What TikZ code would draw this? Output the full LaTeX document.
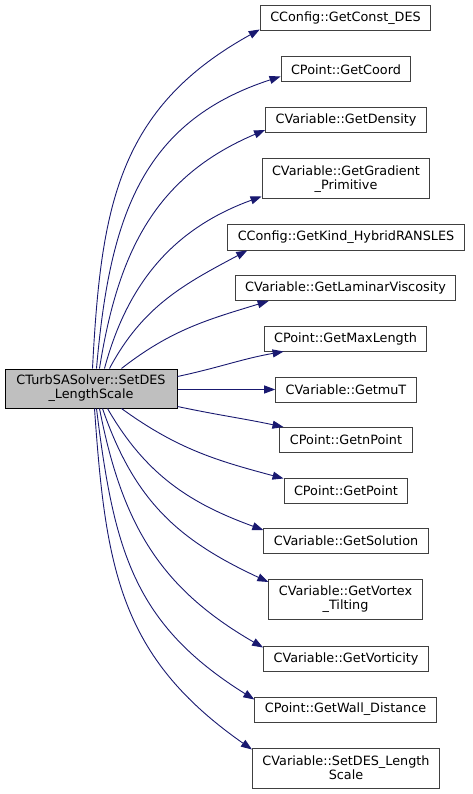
\documentclass[tikz,border=0pt]{standalone}
\usepackage{fontspec}
\setmainfont{DejaVu Sans}
\usetikzlibrary{arrows.meta}
\definecolor{edgeblue}{HTML}{191970}
\definecolor{boxborder}{HTML}{404040}
\definecolor{mainfill}{HTML}{BFBFBF}

\begin{document}
\begin{tikzpicture}[x=1pt,y=1pt,
  box/.style={draw=boxborder,line width=1pt,fill=white,align=center,inner xsep=10pt,inner ysep=0pt,minimum height=25pt,font=\fontsize{12.8}{14}\selectfont},
  mainbox/.style={box,draw=black,fill=mainfill,minimum width=172pt,minimum height=39pt},
  arrow/.style={-{Triangle[length=11pt,width=8pt]},edgeblue,line width=0.9pt}
]
\useasboundingbox (0,0) rectangle (472,-794);
\node[mainbox] (main) at (91,-388.5) {CTurbSASolver::SetDES\\\_LengthScale};
\node[box] (const) at (345.5,-18.5) {CConfig::GetConst\_DES};
\node[box] (coord) at (346,-69.5) {CPoint::GetCoord};
\node[box] (density) at (346,-120) {CVariable::GetDensity};
\node[box,minimum height=40pt] (gradient) at (346,-179) {CVariable::GetGradient\\\_Primitive};
\node[box] (kind) at (346,-237.5) {CConfig::GetKind\_HybridRANSLES};
\node[box] (laminar) at (345.5,-288) {CVariable::GetLaminarViscosity};
\node[box] (maxlen) at (345.5,-338.5) {CPoint::GetMaxLength};
\node[box] (mut) at (346,-389.5) {CVariable::GetmuT};
\node[box] (npoint) at (346,-440) {CPoint::GetnPoint};
\node[box] (point) at (346,-490.5) {CPoint::GetPoint};
\node[box] (solution) at (346,-541) {CVariable::GetSolution};
\node[box,minimum height=40pt] (vortex) at (345.5,-599.5) {CVariable::GetVortex\\\_Tilting};
\node[box] (vorticity) at (346,-658.5) {CVariable::GetVorticity};
\node[box] (wall) at (345.5,-709.5) {CPoint::GetWall\_Distance};
\node[box,minimum height=40pt] (setdes) at (346,-768) {CVariable::SetDES\_Length\\Scale};
% calls leaving the top of the caller
\draw[arrow] ([xshift=88pt]main.north west) to[out=87,in=209,looseness=1.1] ([yshift=2pt]const.south west);
\draw[arrow] ([xshift=92pt]main.north west) to[out=85,in=198,looseness=1.1] ([yshift=6pt]coord.south west);
\draw[arrow] ([xshift=95pt]main.north west) to[out=81,in=203,looseness=1.05] ([yshift=3pt]density.south west);
\draw[arrow] ([xshift=100pt]main.north west) to[out=75,in=200] ([yshift=3pt]gradient.south west);
\draw[arrow] ([xshift=105pt]main.north west) to[out=62,in=208] ([xshift=20pt]kind.south west);
\draw[arrow] ([xshift=117pt]main.north west) to[out=38,in=197] ([xshift=34pt]laminar.south west);
% calls leaving the right side
\draw[arrow] ([yshift=-8pt]main.north east) to[out=12,in=190] ([xshift=20pt]maxlen.south west);
\draw[arrow] ([yshift=-1pt]main.east) -- (mut.west);
\draw[arrow] ([yshift=2pt]main.south east) to[out=-12,in=168] ([xshift=4pt]npoint.north west);
% calls leaving the bottom
\draw[arrow] ([xshift=117pt]main.south west) to[out=-36,in=165] ([yshift=-1pt]point.north west);
\draw[arrow] ([xshift=103pt]main.south west) to[out=-60,in=160] ([yshift=-2pt]solution.north west);
\draw[arrow] ([xshift=98pt]main.south west) to[out=-71,in=155,looseness=1.05] ([yshift=-3pt]vortex.north west);
\draw[arrow] ([xshift=95pt]main.south west) to[out=-79,in=150,looseness=1.05] ([yshift=-2pt]vorticity.north west);
\draw[arrow] ([xshift=92pt]main.south west) to[out=-83,in=148,looseness=1.1] ([yshift=-3pt]wall.north west);
\draw[arrow] ([xshift=90pt]main.south west) to[out=-86,in=145,looseness=1.1] ([yshift=-2pt]setdes.north west);
\end{tikzpicture}
\end{document}
